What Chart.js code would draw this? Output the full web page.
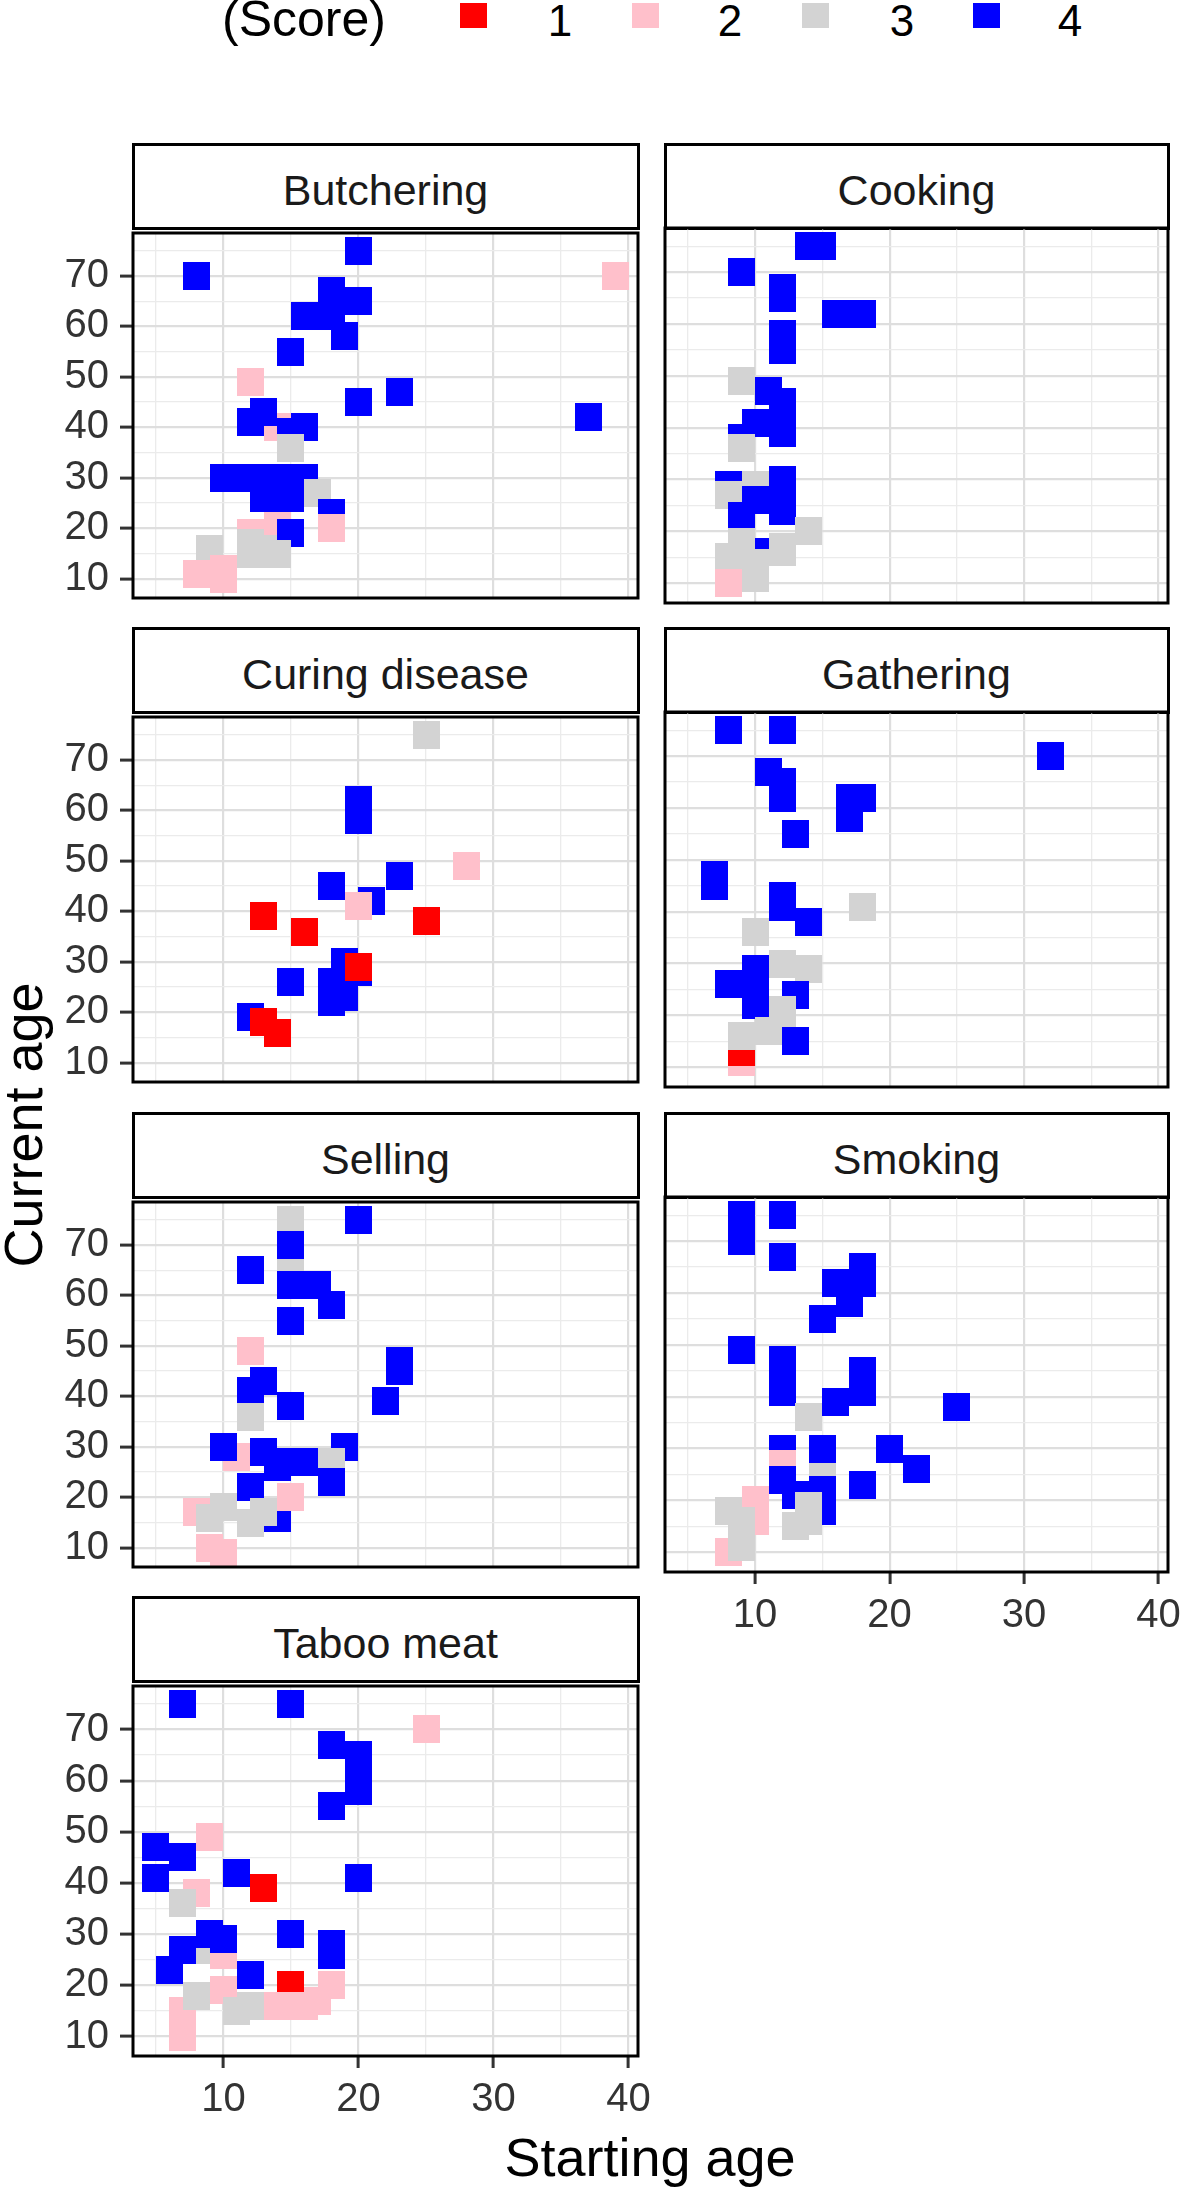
<!DOCTYPE html>
<html>
<head>
<meta charset="utf-8">
<title>Starting age vs Current age by activity</title>
<script src="https://cdn.jsdelivr.net/npm/chart.js@4.4.1/dist/chart.umd.min.js"></script>
<style>
  html, body { margin:0; padding:0; background:#ffffff; }
  body { position:relative; width:1181px; height:2188px; overflow:hidden; font-family:"Liberation Sans", Arial, sans-serif; color:#000; }
  .abs { position:absolute; white-space:nowrap; }
  .strip { position:absolute; box-sizing:border-box; border:3px solid #000; background:#fff; display:flex; align-items:center; justify-content:center; font-size:43px; color:#1a1a1a; padding-top:8px; }
  canvas { position:absolute; }
</style>
</head>
<body>
<script>
// ---------------- DATA ----------------
const scoreLabels = ['1', '2', '3', '4'];
const scoreColors = ['#FF0000', '#FFC0CB', '#D3D3D3', '#0000FF'];
const legendTitle = '(Score)';
const xTitle = 'Starting age';
const yTitle = 'Current age';
const facetNames = ['Butchering', 'Cooking', 'Curing disease', 'Gathering', 'Selling', 'Smoking', 'Taboo meat'];
const xTickLabels = [10, 20, 30, 40];
const yTickLabels = [10, 20, 30, 40, 50, 60, 70];
const xGridValues = [5, 10, 15, 20, 25, 30, 35, 40];
const yGridValues = [10, 15, 20, 25, 30, 35, 40, 45, 50, 55, 60, 65, 70, 75];
const xRange = [3.3, 40.7];
const yRange = [6.2, 78.5];

const butcheringX = [8,20,39,16,18,18,20,19,15,12,23,20,37,14,13,12,16,15,15,14,12,13,10,11,13,15,16,13,14,15,17,18,18,15,12,13,14,12,9,8,10,10];
const butcheringY = [70,75,70,62,62,67,65,58,55,49,47,45,42,40,43,41,40,39,36,22,19,19,30,30,30,30,30,26,26,26,27,23,20,19,17,16,15,15,16,11,12,10];
const butcheringScore = [4,4,2,4,4,4,4,4,4,2,4,4,4,2,4,4,4,4,3,2,2,2,4,4,4,4,4,4,4,4,3,4,2,4,3,3,3,3,3,2,2,2];

const cookingX = [14,15,9,12,12,16,18,12,12,11,12,12,12,9,10,9,9,8,8,10,12,12,12,10,9,11,14,9,12,12,8,10,10,8];
const cookingY = [75,75,70,67,65,62,62,58,55,47,45,42,39,38,41,49,36,29,27,29,30,27,24,26,23,16,20,18,17,16,15,14,11,10];
const cookingScore = [4,4,4,4,4,4,4,4,4,4,4,4,4,4,4,3,3,4,3,3,4,4,4,4,4,4,3,3,3,3,3,3,3,2];

const curingX = [25,20,20,23,18,21,20,28,13,16,25,19,20,15,18,18,19,20,12,13,14];
const curingY = [75,62,58,47,45,42,41,49,39,36,38,30,28,26,26,22,23,29,19,18,16];
const curingScore = [3,4,4,4,4,4,2,2,1,1,1,4,4,4,4,4,4,1,4,1,1];

const gatheringX = [8,12,32,11,12,12,17,18,17,13,7,7,12,12,14,18,10,12,14,10,10,10,8,13,9,9,12,12,9,11,13];
const gatheringY = [75,75,70,67,65,62,62,62,58,55,47,45,43,41,38,41,36,30,29,29,25,22,26,24,11,13,21,18,16,17,15];
const gatheringScore = [4,4,4,4,4,4,4,4,4,4,4,4,4,4,4,3,3,3,3,4,4,4,4,4,2,1,3,3,3,3,4];

const sellingX = [15,20,15,15,12,15,16,17,18,15,12,23,23,22,13,12,12,15,11,10,13,14,15,16,19,18,18,12,14,15,8,9,10,12,13,9,10];
const sellingY = [75,75,66,70,65,62,62,62,58,55,49,47,45,39,43,41,36,38,28,30,29,26,27,27,30,27,23,22,16,20,17,16,18,15,17,10,9];
const sellingScore = [3,4,3,4,4,4,4,4,4,4,2,4,4,4,4,4,3,4,2,4,4,4,4,4,4,3,4,4,4,2,2,3,3,3,3,2,2];

const smokingX = [9,9,12,12,18,18,16,17,17,15,9,12,12,12,18,18,16,25,14,12,15,12,15,20,22,18,12,13,15,15,10,10,8,14,14,13,8,9,9];
const smokingY = [75,70,75,67,65,62,62,62,58,55,49,47,44,41,45,41,39,38,36,30,27,27,30,30,26,23,24,21,22,18,20,16,10,19,16,15,18,16,11];
const smokingScore = [4,4,4,4,4,4,4,4,4,4,4,4,4,4,4,4,4,4,3,4,3,2,4,4,4,4,4,4,4,4,2,2,2,3,3,3,3,3,3];

const tabooX = [7,15,25,18,20,20,20,18,9,5,7,5,11,13,20,8,7,9,10,9,10,7,6,15,18,18,12,15,7,7,10,8,14,15,16,17,18,11,12];
const tabooY = [75,75,70,67,65,62,58,55,49,47,45,41,42,39,41,38,36,27,26,30,29,27,23,30,28,26,22,20,15,10,19,18,16,16,16,17,20,15,16];
const tabooScore = [4,4,2,4,4,4,4,4,2,4,4,4,4,1,4,2,3,3,2,4,4,4,4,4,4,4,4,1,2,2,2,3,2,2,2,2,2,3,3];

// ---------------- LAYOUT ----------------
const FONT = '"Liberation Sans", Arial, sans-serif';
Chart.defaults.font.family = FONT;

const panelDefs = [
  { name: facetNames[0], xs: butcheringX, ys: butcheringY, ss: butcheringScore },
  { name: facetNames[1], xs: cookingX,    ys: cookingY,    ss: cookingScore },
  { name: facetNames[2], xs: curingX,     ys: curingY,     ss: curingScore },
  { name: facetNames[3], xs: gatheringX,  ys: gatheringY,  ss: gatheringScore },
  { name: facetNames[4], xs: sellingX,    ys: sellingY,    ss: sellingScore },
  { name: facetNames[5], xs: smokingX,    ys: smokingY,    ss: smokingScore },
  { name: facetNames[6], xs: tabooX,      ys: tabooY,      ss: tabooScore }
];

const COLS = [{ left: 133, width: 505 }, { left: 665, width: 503 }];
const STRIP_TOP0 = 144, ROW_STEP = 484.4, STRIP_H = 84, PLOT_H = 375;
const PAD = 30, Y_AXIS_W = 133, X_AXIS_H = 70;
const SQ_W = 27, SQ_H = 28;

function squareImage(color) {
  const c = document.createElement('canvas');
  c.width = SQ_W; c.height = SQ_H;
  const g = c.getContext('2d');
  g.fillStyle = color;
  g.fillRect(0, 0, SQ_W, SQ_H);
  return c;
}
const squareImages = scoreColors.map(squareImage);

const borderPlugin = {
  id: 'panelBorder',
  afterDatasetsDraw(chart) {
    const a = chart.chartArea, c = chart.ctx;
    c.save();
    c.strokeStyle = '#000';
    c.lineWidth = 3;
    c.strokeRect(a.left, a.top, a.right - a.left, a.bottom - a.top);
    c.restore();
  }
};

function isMajor(ctx, list) {
  return ctx && ctx.tick && list.includes(ctx.tick.value);
}

function el(tag, cls, styles, text) {
  const e = document.createElement(tag);
  if (cls) e.className = cls;
  Object.assign(e.style, styles);
  if (text !== undefined) e.textContent = text;
  document.body.appendChild(e);
  return e;
}

panelDefs.forEach((p, i) => {
  const col = i % 2, row = Math.floor(i / 2);
  const showY = col === 0;
  const showX = (i === 5 || i === 6);
  const plotL = COLS[col].left, plotW = COLS[col].width;
  const stripTop = Math.round(STRIP_TOP0 + ROW_STEP * row);
  const plotT = stripTop + STRIP_H;

  // facet strip
  el('div', 'strip', {
    left: (plotL - 1.5) + 'px', top: (stripTop - 1.5) + 'px',
    width: (plotW + 3) + 'px', height: (STRIP_H + 3) + 'px'
  }, p.name);

  // chart canvas
  const cvLeft = showY ? 0 : plotL - PAD;
  const cvTop = plotT - PAD;
  const cvW = plotL + plotW + PAD - cvLeft;
  const cvH = PAD + PLOT_H + (showX ? X_AXIS_H : PAD);
  const cv = document.createElement('canvas');
  cv.width = cvW; cv.height = cvH;
  cv.style.left = cvLeft + 'px'; cv.style.top = cvTop + 'px';
  cv.style.width = cvW + 'px'; cv.style.height = cvH + 'px';
  document.body.appendChild(cv);

  new Chart(cv.getContext('2d'), {
    type: 'scatter',
    data: {
      datasets: [{
        label: p.name,
        data: p.xs.map((v, k) => ({ x: v, y: p.ys[k] })),
        pointStyle: p.ss.map(s => squareImages[s - 1]),
        backgroundColor: p.ss.map(s => scoreColors[s - 1]),
        pointRadius: 14,
        pointHoverRadius: 14,
        showLine: false,
        clip: 0
      }]
    },
    options: {
      responsive: false,
      maintainAspectRatio: false,
      animation: false,
      events: [],
      layout: { padding: { left: showY ? 0 : PAD, top: PAD, right: PAD, bottom: showX ? 0 : PAD } },
      plugins: { legend: { display: false }, tooltip: { enabled: false } },
      scales: {
        x: {
          type: 'linear', position: 'bottom',
          min: xRange[0], max: xRange[1],
          afterBuildTicks: s => { s.ticks = xGridValues.map(v => ({ value: v })); },
          afterFit: s => { s.height = showX ? X_AXIS_H : 0; },
          ticks: {
            display: showX, autoSkip: false, maxRotation: 0, padding: 8,
            color: '#333333', font: { family: FONT, size: 40 },
            callback: v => xTickLabels.includes(v) ? String(v) : ''
          },
          grid: {
            color: ctx => isMajor(ctx, xTickLabels) ? '#DEDEDE' : '#EBEBEB',
            lineWidth: ctx => isMajor(ctx, xTickLabels) ? 2.2 : 1.3,
            drawTicks: showX, tickLength: 12, tickWidth: 3,
            tickColor: ctx => isMajor(ctx, xTickLabels) ? '#333333' : 'rgba(0,0,0,0)'
          },
          border: { display: false }
        },
        y: {
          type: 'linear', position: 'left',
          min: yRange[0], max: yRange[1],
          afterBuildTicks: s => { s.ticks = yGridValues.map(v => ({ value: v })); },
          afterFit: s => { s.width = showY ? Y_AXIS_W : 0; },
          ticks: {
            display: showY, autoSkip: false, padding: 11,
            color: '#333333', font: { family: FONT, size: 40 },
            callback: v => yTickLabels.includes(v) ? String(v) : ''
          },
          grid: {
            color: ctx => isMajor(ctx, yTickLabels) ? '#DEDEDE' : '#EBEBEB',
            lineWidth: ctx => isMajor(ctx, yTickLabels) ? 2.2 : 1.3,
            drawTicks: showY, tickLength: 13, tickWidth: 3,
            tickColor: ctx => isMajor(ctx, yTickLabels) ? '#333333' : 'rgba(0,0,0,0)'
          },
          border: { display: false }
        }
      }
    },
    plugins: [borderPlugin]
  });
});

// ---------------- LEGEND ----------------
el('div', 'abs', { left: '222px', top: '-6px', fontSize: '50px', lineHeight: '50px', color: '#000' }, legendTitle);
const keyLefts = [460, 632, 802, 973];
const labelCenters = [560, 730, 902, 1070];
scoreLabels.forEach((lab, k) => {
  el('div', 'abs', { left: keyLefts[k] + 'px', top: '3px', width: '27px', height: '25px', background: scoreColors[k] });
  el('div', 'abs', { left: (labelCenters[k] - 40) + 'px', top: '-1px', width: '80px', textAlign: 'center', fontSize: '44px', lineHeight: '44px', color: '#000' }, lab);
});

// ---------------- AXIS TITLES ----------------
el('div', 'abs', { left: '350px', top: '2130px', width: '600px', textAlign: 'center', fontSize: '54px', lineHeight: '54px', color: '#000' }, xTitle);
el('div', 'abs', { left: (23 - 200) + 'px', top: (1125 - 27) + 'px', width: '400px', height: '54px', textAlign: 'center', fontSize: '54px', lineHeight: '54px', color: '#000', transform: 'rotate(-90deg)', transformOrigin: '50% 50%' }, yTitle);
</script>
</body>
</html>
